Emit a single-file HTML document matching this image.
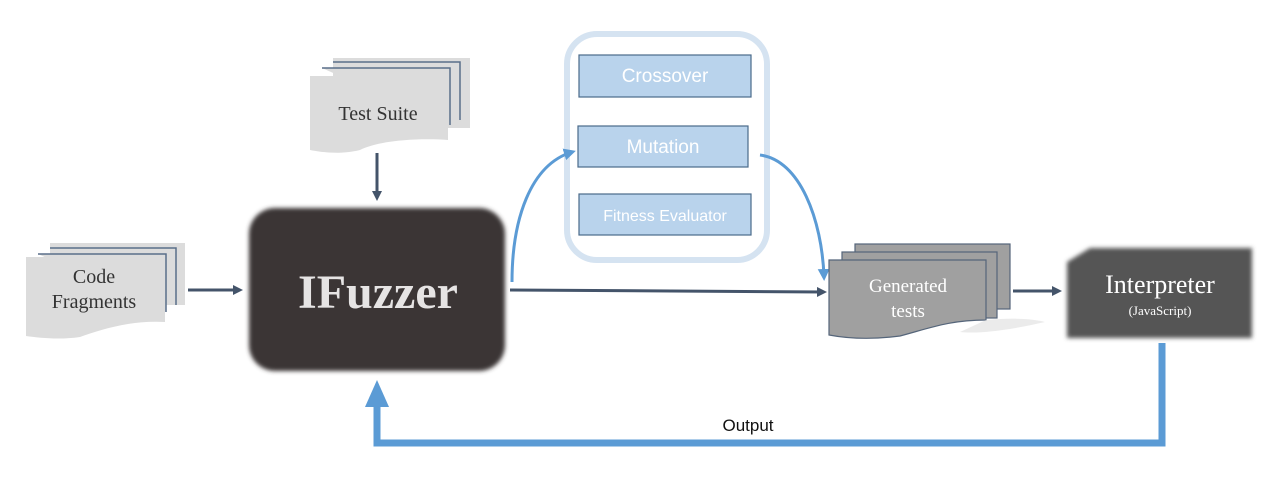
<!DOCTYPE html>
<html><head><style>body{margin:0;background:#fff}svg{display:block}</style></head><body>
<svg width="1267" height="497" viewBox="0 0 1267 497" xmlns="http://www.w3.org/2000/svg">
<defs>
<filter id="bl" x="-10%" y="-10%" width="120%" height="120%"><feGaussianBlur stdDeviation="2"/></filter>
<marker id="ad" markerWidth="10" markerHeight="10" refX="7" refY="5" orient="auto" markerUnits="userSpaceOnUse"><path d="M0,0 L10,5 L0,10 z" fill="#44546a"/></marker>
<marker id="ab" markerWidth="12" markerHeight="12" refX="8" refY="6" orient="auto" markerUnits="userSpaceOnUse"><path d="M0,0 L12,6 L0,12 z" fill="#5b9bd5"/></marker>
</defs>
<!-- Test Suite -->
<g fill="#dcdcdc" stroke="#5a6e8a" stroke-width="1.5">
<path d="M333,58 H470 V128 H333 Z" stroke="none"/>
<path d="M333,62 H460 V120"/>
<path d="M322,68 H450 V125"/>
</g>
<path d="M310,76 H448 V140 C420,138 380,140 360,150 C340,155 320,152 310,150 Z" fill="#dcdcdc"/>
<text x="378" y="120" font-family="Liberation Serif,serif" font-size="20" fill="#333" text-anchor="middle">Test Suite</text>
<line x1="377" y1="153" x2="377" y2="198" stroke="#44546a" stroke-width="3" marker-end="url(#ad)"/>
<!-- Code fragments -->
<g fill="#dcdcdc" stroke="#5a6e8a" stroke-width="1.5">
<path d="M50,243 H185 V305 H50 Z" stroke="none"/>
<path d="M50,248 H176 V305"/>
<path d="M38,254 H166 V312"/>
</g>
<path d="M26,257 H165 V322 C130,320 100,330 80,337 C60,340 40,338 26,336 Z" fill="#dcdcdc"/>
<text x="94" y="283" font-family="Liberation Serif,serif" font-size="20" fill="#333" text-anchor="middle">Code</text>
<text x="94" y="308" font-family="Liberation Serif,serif" font-size="20" fill="#333" text-anchor="middle">Fragments</text>
<line x1="188" y1="290" x2="240" y2="290" stroke="#44546a" stroke-width="3" marker-end="url(#ad)"/>
<!-- IFuzzer -->
<rect x="249" y="208" width="256" height="163" rx="26" fill="#3a3636" filter="url(#bl)"/>
<text x="378" y="308" font-family="Liberation Serif,serif" font-weight="bold" font-size="48" fill="#e6e4e4" text-anchor="middle">IFuzzer</text>
<line x1="510" y1="290" x2="824" y2="292" stroke="#44546a" stroke-width="3" marker-end="url(#ad)"/>
<!-- GA container -->
<rect x="567" y="34" width="200" height="226" rx="30" fill="#fff" stroke="#d5e3f1" stroke-width="6"/>
<g fill="#b9d3ec" stroke="#4a6a8a" stroke-width="1.2">
<rect x="579" y="55" width="172" height="42"/>
<rect x="578" y="126" width="170" height="41"/>
<rect x="579" y="194" width="172" height="41"/>
</g>
<g font-family="Liberation Sans,sans-serif" fill="#fff" text-anchor="middle">
<text x="665" y="82" font-size="19">Crossover</text>
<text x="663" y="153" font-size="19">Mutation</text>
<text x="665" y="221" font-size="16">Fitness Evaluator</text>
</g>
<path d="M512,282 C512,220 530,165 572,152" fill="none" stroke="#5b9bd5" stroke-width="3" marker-end="url(#ab)"/>
<path d="M760,155 C800,160 822,220 824,277" fill="none" stroke="#5b9bd5" stroke-width="3" marker-end="url(#ab)"/>
<!-- Generated tests -->
<g fill="#a0a0a0" stroke="#55657a" stroke-width="1.2">
<rect x="855" y="244" width="155" height="65"/>
<rect x="842" y="252" width="155" height="66"/>
</g>
<path d="M829,260 H986 V320 C950,320 930,328 900,336 C870,340 845,338 829,335 Z" fill="#a0a0a0" stroke="#55657a" stroke-width="1.2"/>
<path d="M986,320 C1010,318 1030,318 1045,322 C1010,330 980,334 960,332 Z" fill="#ddd" opacity="0.6"/>
<text x="908" y="292" font-family="Liberation Serif,serif" font-size="19" fill="#fff" text-anchor="middle">Generated</text>
<text x="908" y="317" font-family="Liberation Serif,serif" font-size="19" fill="#fff" text-anchor="middle">tests</text>
<line x1="1013" y1="291" x2="1059" y2="291" stroke="#44546a" stroke-width="3" marker-end="url(#ad)"/>
<!-- Interpreter -->
<path d="M1090,248 H1252 V338 H1067 V262 Z" fill="#555" filter="url(#bl)"/>
<text x="1160" y="293" font-family="Liberation Serif,serif" font-size="26" fill="#fff" text-anchor="middle">Interpreter</text>
<text x="1160" y="315" font-family="Liberation Serif,serif" font-size="13" fill="#fff" text-anchor="middle">(JavaScript)</text>
<!-- Output loop -->
<path d="M1162,343 V443 H377 V392" fill="none" stroke="#5b9bd5" stroke-width="7"/>
<path d="M365,407 L377,380 L389,407 Z" fill="#5b9bd5"/>
<text x="748" y="431" font-family="Liberation Sans,sans-serif" font-size="17" fill="#111" text-anchor="middle">Output</text>
</svg>
</body></html>
